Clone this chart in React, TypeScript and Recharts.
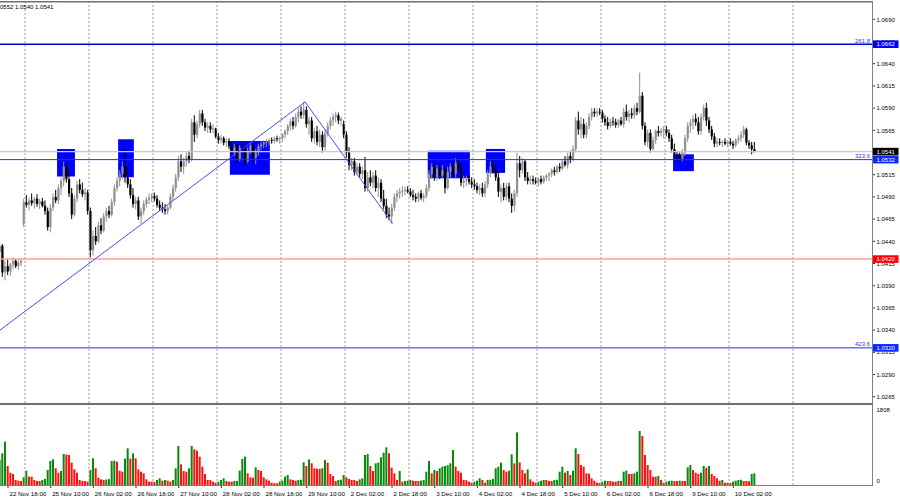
import React from 'react';
import { ComposedChart, Bar, XAxis, YAxis, ReferenceLine, ReferenceArea } from 'recharts';

// ---- Candles [open, high, low, close], hourly, per trading day ----
const nov22: number[][] = [
  [1.0428,1.0440,1.0410,1.0435],[1.0435,1.0437,1.0400,1.0405],[1.0405,1.0418,1.0396,1.0412],
  [1.0412,1.0420,1.0402,1.0406],[1.0406,1.0416,1.0401,1.0414],[1.0414,1.0422,1.0409,1.0418],
  [1.0418,1.0420,1.0410,1.0412],[1.0412,1.0419,1.0408,1.0416],[1.0416,1.0421,1.0412,1.0418],
];
const nov25: number[][] = [
  [1.0460,1.0488,1.0456,1.0484],[1.0484,1.0492,1.0478,1.0481],[1.0481,1.0489,1.0475,1.0486],
  [1.0486,1.0494,1.0480,1.0483],[1.0483,1.0490,1.0477,1.0488],[1.0488,1.0493,1.0479,1.0482],
  [1.0482,1.0488,1.0476,1.0485],[1.0485,1.0489,1.0478,1.0480],[1.0480,1.0486,1.0470,1.0474],
  [1.0474,1.0478,1.0452,1.0456],[1.0456,1.0482,1.0450,1.0478],[1.0478,1.0494,1.0474,1.0490],
  [1.0490,1.0498,1.0483,1.0486],[1.0486,1.0504,1.0482,1.0500],[1.0500,1.0512,1.0492,1.0508],
  [1.0508,1.0530,1.0502,1.0524],[1.0524,1.0528,1.0506,1.0510],[1.0510,1.0520,1.0490,1.0494],
  [1.0494,1.0500,1.0465,1.0470],[1.0470,1.0492,1.0468,1.0488],[1.0488,1.0508,1.0484,1.0504],
  [1.0504,1.0510,1.0494,1.0498],[1.0498,1.0506,1.0490,1.0493],[1.0493,1.0500,1.0486,1.0495],
];
const nov26: number[][] = [
  [1.0495,1.0498,1.0470,1.0474],[1.0474,1.0478,1.0422,1.0430],[1.0430,1.0452,1.0424,1.0446],
  [1.0446,1.0456,1.0436,1.0440],[1.0440,1.0462,1.0438,1.0458],[1.0458,1.0466,1.0448,1.0452],
  [1.0452,1.0472,1.0450,1.0468],[1.0468,1.0478,1.0462,1.0474],[1.0474,1.0480,1.0466,1.0470],
  [1.0470,1.0488,1.0468,1.0484],[1.0484,1.0504,1.0480,1.0500],[1.0500,1.0512,1.0496,1.0508],
  [1.0508,1.0520,1.0502,1.0516],[1.0516,1.0530,1.0510,1.0524],[1.0524,1.0544,1.0506,1.0512],
  [1.0512,1.0524,1.0500,1.0504],[1.0504,1.0510,1.0488,1.0492],[1.0492,1.0500,1.0478,1.0482],
  [1.0482,1.0490,1.0476,1.0486],[1.0486,1.0490,1.0464,1.0468],[1.0468,1.0478,1.0460,1.0474],
  [1.0474,1.0486,1.0470,1.0482],[1.0482,1.0490,1.0478,1.0487],[1.0487,1.0494,1.0482,1.0489],
];
const nov27: number[][] = [
  [1.0489,1.0494,1.0484,1.0491],[1.0491,1.0495,1.0485,1.0488],[1.0488,1.0492,1.0478,1.0481],
  [1.0481,1.0486,1.0474,1.0478],[1.0478,1.0484,1.0472,1.0476],[1.0476,1.0482,1.0470,1.0474],
  [1.0474,1.0480,1.0470,1.0478],[1.0478,1.0494,1.0476,1.0490],[1.0490,1.0504,1.0486,1.0500],
  [1.0500,1.0516,1.0496,1.0512],[1.0512,1.0536,1.0508,1.0530],[1.0530,1.0538,1.0518,1.0524],
  [1.0524,1.0534,1.0516,1.0530],[1.0530,1.0540,1.0524,1.0536],[1.0536,1.0542,1.0528,1.0532],
  [1.0532,1.0578,1.0530,1.0574],[1.0574,1.0582,1.0552,1.0560],[1.0560,1.0576,1.0556,1.0572],
  [1.0572,1.0588,1.0568,1.0584],[1.0584,1.0588,1.0570,1.0574],[1.0574,1.0578,1.0564,1.0568],
  [1.0568,1.0574,1.0562,1.0570],[1.0570,1.0574,1.0562,1.0566],[1.0566,1.0572,1.0562,1.0567],
];
const nov28: number[][] = [
  [1.0567,1.0568,1.0556,1.0558],[1.0558,1.0562,1.0550,1.0554],[1.0554,1.0560,1.0550,1.0556],
  [1.0556,1.0558,1.0548,1.0551],[1.0551,1.0556,1.0546,1.0553],[1.0553,1.0556,1.0544,1.0547],
  [1.0547,1.0552,1.0538,1.0541],[1.0541,1.0550,1.0536,1.0546],[1.0546,1.0550,1.0528,1.0532],
  [1.0532,1.0548,1.0530,1.0545],[1.0545,1.0552,1.0540,1.0543],[1.0543,1.0548,1.0526,1.0530],
  [1.0530,1.0546,1.0528,1.0542],[1.0542,1.0552,1.0538,1.0548],[1.0548,1.0550,1.0530,1.0534],
  [1.0534,1.0544,1.0527,1.0540],[1.0540,1.0550,1.0536,1.0547],[1.0547,1.0552,1.0542,1.0549],
  [1.0549,1.0554,1.0545,1.0551],[1.0551,1.0555,1.0546,1.0552],[1.0552,1.0556,1.0548,1.0554],
  [1.0554,1.0557,1.0550,1.0553],[1.0553,1.0558,1.0550,1.0556],[1.0556,1.0559,1.0552,1.0555],
];
const nov29: number[][] = [
  [1.0555,1.0558,1.0550,1.0556],[1.0556,1.0562,1.0552,1.0560],[1.0560,1.0566,1.0556,1.0564],
  [1.0564,1.0572,1.0560,1.0570],[1.0570,1.0578,1.0565,1.0575],[1.0575,1.0580,1.0566,1.0570],
  [1.0570,1.0584,1.0568,1.0580],[1.0580,1.0590,1.0574,1.0586],[1.0586,1.0592,1.0578,1.0582],
  [1.0582,1.0597,1.0578,1.0588],[1.0588,1.0592,1.0568,1.0572],[1.0572,1.0580,1.0560,1.0576],
  [1.0576,1.0580,1.0552,1.0556],[1.0556,1.0568,1.0550,1.0564],[1.0564,1.0570,1.0548,1.0552],
  [1.0552,1.0566,1.0546,1.0560],[1.0560,1.0564,1.0540,1.0546],[1.0546,1.0566,1.0542,1.0562],
  [1.0562,1.0574,1.0558,1.0570],[1.0570,1.0580,1.0566,1.0576],[1.0576,1.0584,1.0570,1.0580],
  [1.0580,1.0586,1.0574,1.0582],[1.0582,1.0585,1.0572,1.0576],[1.0576,1.0580,1.0570,1.0578],
];
const dec02: number[][] = [
  [1.0572,1.0576,1.0556,1.0560],[1.0560,1.0564,1.0534,1.0540],[1.0540,1.0546,1.0520,1.0526],
  [1.0526,1.0534,1.0520,1.0530],[1.0530,1.0534,1.0514,1.0518],[1.0518,1.0528,1.0515,1.0524],
  [1.0524,1.0528,1.0512,1.0516],[1.0516,1.0524,1.0510,1.0520],[1.0520,1.0535,1.0496,1.0500],
  [1.0500,1.0518,1.0496,1.0512],[1.0512,1.0520,1.0502,1.0506],[1.0506,1.0518,1.0500,1.0514],
  [1.0514,1.0520,1.0496,1.0500],[1.0500,1.0512,1.0490,1.0506],[1.0506,1.0510,1.0484,1.0488],
  [1.0488,1.0498,1.0476,1.0480],[1.0480,1.0488,1.0466,1.0470],[1.0470,1.0478,1.0464,1.0468],
  [1.0468,1.0482,1.0460,1.0478],[1.0478,1.0494,1.0474,1.0490],[1.0490,1.0498,1.0484,1.0494],
  [1.0494,1.0500,1.0488,1.0496],[1.0496,1.0502,1.0490,1.0497],[1.0497,1.0502,1.0492,1.0498],
];
const dec03: number[][] = [
  [1.0498,1.0502,1.0494,1.0496],[1.0496,1.0500,1.0490,1.0492],[1.0492,1.0498,1.0486,1.0490],
  [1.0490,1.0494,1.0484,1.0488],[1.0488,1.0496,1.0484,1.0494],[1.0494,1.0498,1.0486,1.0489],
  [1.0489,1.0494,1.0484,1.0491],[1.0491,1.0504,1.0488,1.0500],[1.0500,1.0520,1.0496,1.0516],
  [1.0516,1.0528,1.0510,1.0524],[1.0524,1.0530,1.0508,1.0512],[1.0512,1.0526,1.0508,1.0522],
  [1.0522,1.0528,1.0510,1.0514],[1.0514,1.0526,1.0510,1.0520],[1.0520,1.0524,1.0494,1.0500],
  [1.0500,1.0524,1.0498,1.0518],[1.0518,1.0528,1.0512,1.0524],[1.0524,1.0530,1.0514,1.0516],
  [1.0516,1.0534,1.0512,1.0528],[1.0528,1.0534,1.0518,1.0522],[1.0522,1.0528,1.0502,1.0506],
  [1.0506,1.0514,1.0500,1.0508],[1.0508,1.0514,1.0502,1.0510],[1.0510,1.0514,1.0504,1.0507],
];
const dec04: number[][] = [
  [1.0507,1.0512,1.0500,1.0504],[1.0504,1.0510,1.0498,1.0502],[1.0502,1.0506,1.0494,1.0498],
  [1.0498,1.0504,1.0492,1.0500],[1.0500,1.0506,1.0490,1.0494],[1.0494,1.0508,1.0490,1.0504],
  [1.0504,1.0520,1.0500,1.0516],[1.0516,1.0530,1.0512,1.0524],[1.0524,1.0534,1.0516,1.0520],
  [1.0520,1.0528,1.0508,1.0512],[1.0512,1.0518,1.0490,1.0496],[1.0496,1.0504,1.0484,1.0500],
  [1.0500,1.0506,1.0486,1.0490],[1.0490,1.0506,1.0486,1.0502],[1.0502,1.0506,1.0484,1.0488],
  [1.0488,1.0494,1.0472,1.0480],[1.0480,1.0498,1.0474,1.0494],[1.0494,1.0540,1.0490,1.0528],
  [1.0528,1.0536,1.0512,1.0520],[1.0520,1.0534,1.0516,1.0530],[1.0530,1.0532,1.0508,1.0512],
  [1.0512,1.0518,1.0504,1.0508],[1.0508,1.0514,1.0504,1.0510],[1.0510,1.0514,1.0504,1.0508],
];
const dec05: number[][] = [
  [1.0508,1.0512,1.0504,1.0506],[1.0506,1.0512,1.0502,1.0510],[1.0510,1.0514,1.0504,1.0507],
  [1.0507,1.0514,1.0505,1.0512],[1.0512,1.0516,1.0508,1.0514],[1.0514,1.0518,1.0508,1.0516],
  [1.0516,1.0522,1.0512,1.0520],[1.0520,1.0524,1.0514,1.0518],[1.0518,1.0526,1.0516,1.0524],
  [1.0524,1.0528,1.0518,1.0522],[1.0522,1.0532,1.0520,1.0530],[1.0530,1.0536,1.0524,1.0526],
  [1.0526,1.0540,1.0522,1.0536],[1.0536,1.0542,1.0528,1.0532],[1.0532,1.0548,1.0530,1.0544],
  [1.0544,1.0580,1.0540,1.0576],[1.0576,1.0586,1.0560,1.0566],[1.0566,1.0580,1.0556,1.0572],
  [1.0572,1.0578,1.0556,1.0560],[1.0560,1.0574,1.0556,1.0570],[1.0570,1.0584,1.0566,1.0580],
  [1.0580,1.0590,1.0576,1.0586],[1.0586,1.0590,1.0580,1.0584],[1.0584,1.0590,1.0580,1.0586],
];
const dec06: number[][] = [
  [1.0586,1.0590,1.0582,1.0585],[1.0585,1.0588,1.0574,1.0578],[1.0578,1.0582,1.0570,1.0574],
  [1.0574,1.0580,1.0566,1.0570],[1.0570,1.0578,1.0568,1.0575],[1.0575,1.0580,1.0570,1.0574],
  [1.0574,1.0578,1.0568,1.0571],[1.0571,1.0578,1.0568,1.0576],[1.0576,1.0580,1.0570,1.0572],
  [1.0572,1.0590,1.0568,1.0586],[1.0586,1.0594,1.0576,1.0580],[1.0580,1.0588,1.0574,1.0584],
  [1.0584,1.0590,1.0578,1.0582],[1.0582,1.0594,1.0578,1.0590],[1.0590,1.0596,1.0582,1.0586],
  [1.0586,1.0630,1.0584,1.0604],[1.0604,1.0608,1.0566,1.0570],[1.0570,1.0574,1.0548,1.0552],
  [1.0552,1.0566,1.0546,1.0562],[1.0562,1.0566,1.0540,1.0544],[1.0544,1.0558,1.0542,1.0554],
  [1.0554,1.0566,1.0550,1.0564],[1.0564,1.0570,1.0558,1.0562],[1.0562,1.0568,1.0558,1.0565],
];
const dec09: number[][] = [
  [1.0565,1.0570,1.0556,1.0566],[1.0566,1.0570,1.0558,1.0562],[1.0562,1.0566,1.0552,1.0556],
  [1.0556,1.0560,1.0540,1.0544],[1.0544,1.0550,1.0534,1.0538],[1.0538,1.0542,1.0530,1.0536],
  [1.0536,1.0540,1.0530,1.0533],[1.0533,1.0544,1.0530,1.0540],[1.0540,1.0560,1.0536,1.0556],
  [1.0556,1.0574,1.0552,1.0570],[1.0570,1.0578,1.0562,1.0574],[1.0574,1.0582,1.0566,1.0578],
  [1.0578,1.0584,1.0570,1.0574],[1.0574,1.0580,1.0560,1.0564],[1.0564,1.0584,1.0560,1.0580],
  [1.0580,1.0594,1.0576,1.0590],[1.0590,1.0596,1.0570,1.0576],[1.0576,1.0580,1.0562,1.0566],
  [1.0566,1.0570,1.0554,1.0558],[1.0558,1.0562,1.0546,1.0550],[1.0550,1.0556,1.0546,1.0552],
  [1.0552,1.0556,1.0548,1.0551],[1.0551,1.0554,1.0546,1.0552],[1.0552,1.0556,1.0548,1.0550],
];
const dec10: number[][] = [
  [1.0550,1.0554,1.0546,1.0552],[1.0552,1.0556,1.0548,1.0550],[1.0550,1.0553,1.0544,1.0548],
  [1.0548,1.0556,1.0546,1.0554],[1.0554,1.0560,1.0550,1.0556],[1.0556,1.0564,1.0552,1.0560],
  [1.0560,1.0570,1.0556,1.0566],[1.0566,1.0568,1.0548,1.0551],[1.0551,1.0554,1.0544,1.0548],
  [1.0548,1.0552,1.0538,1.0544],[1.0544,1.0552,1.0540,1.0541],
];

// ---- Tick volumes per day ----
const vol22 = [595,754,1031,452,293,262,119,103,95];
const vol25 = [183,341,198,198,119,95,95,119,143,357,571,611,397,293,333,738,726,714,532,373,293,119,95,92];
const vol26 = [79,357,635,397,174,135,119,130,140,571,580,555,341,317,627,873,627,754,635,373,317,278,135,79];
const vol27 = [79,75,119,159,103,119,103,79,119,397,928,492,333,317,397,928,849,817,674,436,262,119,119,79];
const vol28 = [55,79,119,159,95,79,79,95,98,341,619,674,278,183,174,420,357,333,183,135,103,55,40,38];
const vol29 = [79,103,198,238,135,119,103,119,125,539,452,611,516,397,390,385,400,595,532,262,214,95,119,125];
const volD02 = [238,183,143,119,119,95,135,159,714,738,452,333,516,532,658,770,896,754,412,278,119,333,79,95];
const volD03 = [103,119,103,95,95,103,119,317,571,278,357,333,397,436,452,468,516,833,436,333,293,119,115,79];
const volD04 = [55,79,103,159,119,55,119,125,143,397,436,532,357,317,341,730,516,1253,539,357,278,373,135,79];
const volD05 = [55,79,103,119,119,95,95,119,125,317,436,293,333,238,341,873,738,476,436,278,270,159,103,55];
const volD06 = [52,79,103,95,95,79,79,95,95,317,341,262,262,278,317,1285,1166,714,476,357,198,198,214,119];
const volD09 = [55,79,95,103,95,95,103,95,95,420,476,357,293,262,293,452,412,452,262,214,159,103,119,55];
const volD10 = [55,50,79,103,119,125,95,95,90,262,278];

// ---- Axis / annotation values ----
const dayStartBars = [9,33,57,81,105,129,153,177,201,225,249,273,297];
const timeTickBars = [3,19,35,51,67,83,99,115,131,147,163,179,195,211,227,243,259,275];
const timeLabels = ['22 Nov 18:00','25 Nov 10:00','26 Nov 02:00','26 Nov 18:00','27 Nov 10:00','28 Nov 02:00',
  '28 Nov 18:00','29 Nov 10:00','2 Dec 02:00','2 Dec 18:00','3 Dec 10:00','4 Dec 02:00','4 Dec 18:00',
  '5 Dec 10:00','6 Dec 02:00','6 Dec 18:00','9 Dec 10:00','10 Dec 02:00'];
const priceTicks = [1.0690,1.0665,1.0640,1.0615,1.0590,1.0565,1.0540,1.0515,1.0490,1.0465,1.0440,1.0415,1.0390,1.0365,1.0340,1.0315,1.0290,1.0265];
const markerPrices = [1.0662,1.0541,1.0532,1.0420,1.0320];
const markerColors = ['#0000f0','#000000','#0a28ff','#ff0000','#0a28ff'];
const fibPrices = [1.0662,1.0532,1.0320];
const fibNames = ['261.8','323.6','423.6'];
const bidPrice = 1.0541;
const supportPrice = 1.0420;
const boxFromBar = [21.4,44.3,86.2,160.4,182.2,252.4];
const boxToBar = [28.1,50.2,101.2,176.2,189.4,260.2];
const boxLow = [1.0513,1.0512,1.0515,1.0511,1.0517,1.0519];
const boxHigh = [1.0544,1.0555,1.0553,1.0542,1.0544,1.0538];
const zigBars = [0,114.4,147.2];
const zigPrices = [1.0340,1.0597,1.0460];
const volTicks = [0,1808];
const headerText = '1.0552 1.0540 1.0541';

// ---- Layout constants ----
const PLOT_R = 872;
const Y_MIN = 1.02579;
const Y_MAX = 1.07095;
const X_MAX = 327;
const V_MAX = 1927;
const FONT = '"Liberation Sans", Arial, sans-serif';

const candles = [...nov22,...nov25,...nov26,...nov27,...nov28,...nov29,...dec02,...dec03,...dec04,...dec05,...dec06,...dec09,...dec10];
const vols = [...vol22,...vol25,...vol26,...vol27,...vol28,...vol29,...volD02,...volD03,...volD04,...volD05,...volD06,...volD09,...volD10];
const candleData = candles.map((q, k) => ({ k, o: q[0], h: q[1], l: q[2], c: q[3], range: [q[2], q[1]] }));
const volData = vols.map((v, k) => ({ k, v, up: k === 0 ? true : v > vols[k - 1] }));
const gridBars = dayStartBars.map((d) => d + 0.375);

function CandleShape(props: any) {
  const { x, y, width, height, payload } = props;
  if (x == null || !payload) return null;
  const { o, h, l, c } = payload;
  const top = Math.min(y, y + height);
  const bot = Math.max(y, y + height);
  const span = h - l;
  const toY = (p: number) => (span > 0 ? top + ((h - p) / span) * (bot - top) : top);
  const cx = x + width / 2;
  const up = c >= o;
  const col = up ? '#909090' : '#000000';
  const yo = toY(o);
  const yc = toY(c);
  const bt = Math.min(yo, yc);
  const bh = Math.max(Math.abs(yc - yo), 1);
  return (
    <g>
      <rect x={cx - 0.5} y={top} width={1} height={Math.max(bot - top, 1)} fill={col} />
      <rect x={cx - 1} y={bt} width={2.2} height={bh} fill={col} />
    </g>
  );
}

function VolShape(props: any) {
  const { x, y, width, height, payload } = props;
  if (x == null || !payload) return null;
  const cx = x + width / 2;
  const top = Math.min(y, y + height);
  const h = Math.abs(height);
  return <rect x={cx - 1} y={top} width={2} height={h} fill={payload.up ? '#0a8a0a' : '#ff1010'} />;
}

function PriceTick(props: any) {
  const { y, payload } = props;
  const v: number = payload.value;
  const idx = markerPrices.findIndex((p) => Math.abs(p - v) < 1e-7);
  const label = v.toFixed(4);
  if (idx >= 0) {
    return (
      <g>
        <rect x={PLOT_R + 1} y={y - 3.8} width={25.5} height={7.6} fill={markerColors[idx]} />
        <text x={PLOT_R + 4.5} y={y + 2.2} fill="#ffffff" fontSize={6} fontFamily={FONT}>{label}</text>
      </g>
    );
  }
  return (
    <g>
      <line x1={PLOT_R} x2={PLOT_R + 3} y1={y} y2={y} stroke="#000" strokeWidth={0.8} />
      <text x={PLOT_R + 4.5} y={y + 2.2} fill="#000" fontSize={6} fontFamily={FONT}>{label}</text>
    </g>
  );
}

function VolTick(props: any) {
  const { y, payload } = props;
  const v: number = payload.value;
  return (
    <text x={PLOT_R + 4.5} y={v === 0 ? y - 2 : y + 2.5} fill="#000" fontSize={6} fontFamily={FONT}>{String(v)}</text>
  );
}

function TimeTick(props: any) {
  const { x, payload } = props;
  const i = timeTickBars.indexOf(payload.value);
  return (
    <g>
      <line x1={x} x2={x} y1={81} y2={84} stroke="#000" strokeWidth={0.8} />
      <text x={x + 1.5} y={91.5} fill="#000" fontSize={6.2} fontFamily={FONT}>{timeLabels[i]}</text>
    </g>
  );
}

const fibLabel = (name: string) => (p: any) => {
  const vb = p.viewBox || {};
  return (
    <text x={(vb.x || 0) + (vb.width || 0) - 2} y={(vb.y || 0) - 1.5} textAnchor="end" fill="#3030ff" fontSize={6} fontFamily={FONT}>{name}</text>
  );
};

export default function App() {
  return (
    <div style={{ position: 'absolute', left: 0, top: 0, width: 900, height: 500, background: '#ffffff', overflow: 'hidden' }}>
      <div style={{ position: 'absolute', left: 0, top: 0 }}>
        <ComposedChart width={900} height={404} data={candleData} margin={{ top: 2, right: 0, bottom: 1, left: 0 }}>
          <XAxis dataKey="k" type="number" domain={[0, X_MAX]} hide allowDataOverflow />
          <YAxis orientation="right" width={28} type="number" domain={[Y_MIN, Y_MAX]} allowDataOverflow
            ticks={[...priceTicks, ...markerPrices]} interval={0} tick={<PriceTick />} tickLine={false} axisLine={false} />
          {gridBars.map((g) => (
            <ReferenceLine key={'g' + g} x={g} stroke="#9a9a9a" strokeDasharray="2 2" strokeWidth={1} />
          ))}
          {boxFromBar.map((b, i) => (
            <ReferenceArea key={'box' + i} x1={b} x2={boxToBar[i]} y1={boxLow[i]} y2={boxHigh[i]} fill="#0000ff" fillOpacity={1} stroke="none" />
          ))}
          <Bar dataKey="range" barSize={2} shape={<CandleShape />} isAnimationActive={false} />
          <ReferenceLine y={bidPrice} stroke="#c8c8c8" strokeWidth={1.4} />
          <ReferenceLine y={supportPrice} stroke="#f4a0a0" strokeWidth={1.5} />
          {fibPrices.map((p, i) => (
            <ReferenceLine key={'fib' + i} y={p} stroke={i === 0 ? '#0000cc' : '#2a2aff'} strokeWidth={i === 0 ? 1.6 : 1} label={fibLabel(fibNames[i])} />
          ))}
          {zigBars.slice(1).map((b, i) => (
            <ReferenceLine key={'zig' + i} segment={[{ x: zigBars[i], y: zigPrices[i] }, { x: b, y: zigPrices[i + 1] }]} stroke="#4a4aff" strokeWidth={1} />
          ))}
        </ComposedChart>
      </div>
      <div style={{ position: 'absolute', left: 0, top: 404 }}>
        <ComposedChart width={900} height={96} data={volData} margin={{ top: 0, right: 0, bottom: 0, left: 0 }}>
          <XAxis dataKey="k" type="number" domain={[0, X_MAX]} ticks={timeTickBars} interval={0} height={15}
            tick={<TimeTick />} tickLine={false} axisLine={false} allowDataOverflow />
          <YAxis orientation="right" width={28} type="number" domain={[0, V_MAX]} ticks={volTicks} interval={0}
            tick={<VolTick />} tickLine={false} axisLine={false} allowDataOverflow />
          {gridBars.map((g) => (
            <ReferenceLine key={'vg' + g} x={g} stroke="#9a9a9a" strokeDasharray="2 2" strokeWidth={1} />
          ))}
          <Bar dataKey="v" barSize={2} shape={<VolShape />} isAnimationActive={false} />
        </ComposedChart>
      </div>
      <svg width={900} height={500} style={{ position: 'absolute', left: 0, top: 0, pointerEvents: 'none' }}>
        <rect x={0} y={1} width={PLOT_R + 1} height={1.5} fill="#707070" />
        <rect x={PLOT_R} y={1} width={1} height={485} fill="#808080" />
        <rect x={0} y={403} width={PLOT_R + 1} height={2} fill="#707070" />
        <rect x={0} y={485} width={PLOT_R + 1} height={1} fill="#808080" />
        <text x={-5} y={9} fill="#000" fontSize={6} fontFamily={FONT}>{headerText}</text>
      </svg>
    </div>
  );
}
